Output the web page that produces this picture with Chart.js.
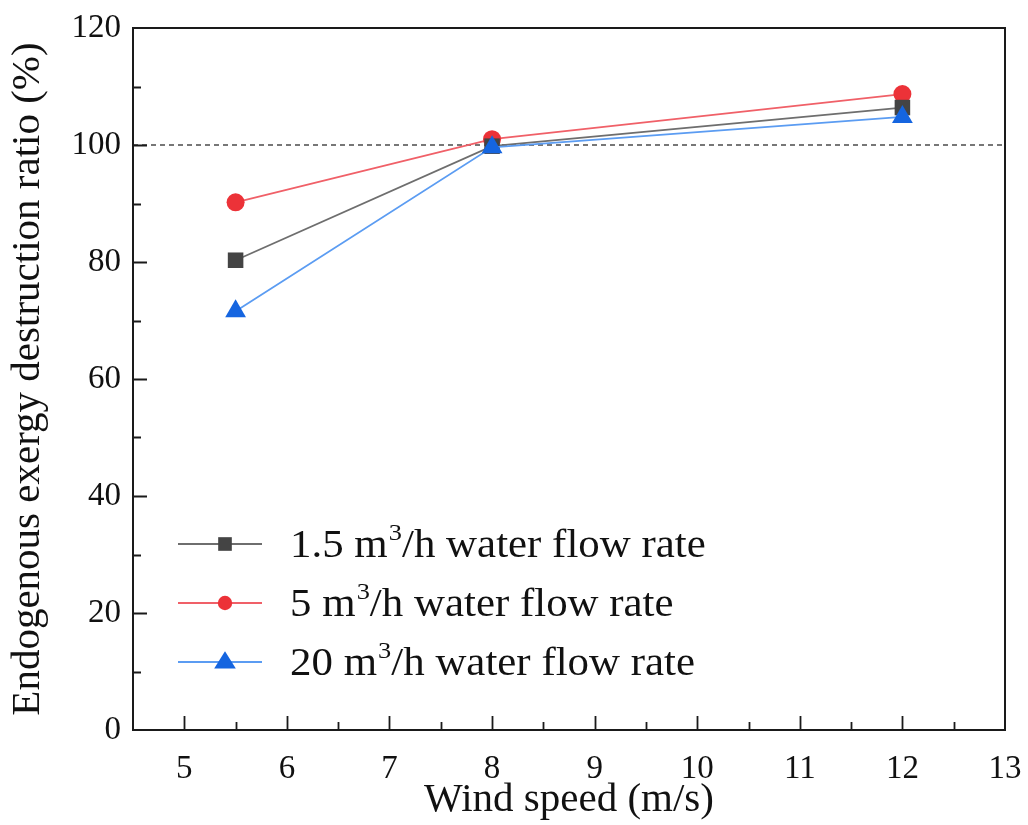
<!DOCTYPE html>
<html>
<head>
<meta charset="utf-8">
<script src="https://cdn.jsdelivr.net/npm/chart.js@4.4.0/dist/chart.umd.min.js"></script>
<style>
  body { margin: 0; background: #fff; }
  canvas { display: block; }
</style>
</head>
<body>
<canvas id="lineChart" width="1028" height="825"></canvas>
<script>
const windSpeed = [5.5, 8, 12];
const flow15 = [80.3, 99.8, 106.4];
const flow5 = [90.2, 101.0, 108.7];
const flow20 = [71.6, 99.6, 104.8];
const xTicks = [5, 6, 7, 8, 9, 10, 11, 12, 13];
const yTicks = [0, 20, 40, 60, 80, 100, 120];
const refLine = 100;

const serif = '"Liberation Serif", "Times New Roman", serif';

function pts(arr) {
    return windSpeed.map((x, i) => ({ x: x, y: arr[i] }));
}

// frame + inward ticks (major and minor) like Origin
const framePlugin = {
    id: 'frame',
    afterDatasetsDraw(chart) {
        const { ctx, chartArea: a, scales: { x, y } } = chart;
        ctx.save();
        ctx.strokeStyle = '#1a1a1a';
        ctx.lineWidth = 2;
        ctx.strokeRect(a.left, a.top, a.right - a.left, a.bottom - a.top);
        ctx.lineWidth = 1.8;
        ctx.beginPath();
        for (let v = 5; v < 13; v += 0.5) {
            const px = Math.round(x.getPixelForValue(v)) + 0.5;
            const len = Number.isInteger(v) ? 14 : 8;
            ctx.moveTo(px, a.bottom);
            ctx.lineTo(px, a.bottom - len);
        }
        for (let v = 10; v < 120; v += 10) {
            const py = Math.round(y.getPixelForValue(v)) + 0.5;
            const len = v % 20 === 0 ? 14 : 8;
            ctx.moveTo(a.left, py);
            ctx.lineTo(a.left + len, py);
        }
        ctx.stroke();
        ctx.restore();
    }
};

// legend with superscript
const legendPlugin = {
    id: 'supLegend',
    afterDraw(chart) {
        const { ctx, chartArea: a } = chart;
        const items = chart.data.datasets.filter(d => d.legendText);
        ctx.save();
        items.forEach((d, i) => {
            const cy = a.top + 516 + i * 59;
            const x0 = a.left + 45;
            ctx.strokeStyle = d.borderColor;
            ctx.lineWidth = d.borderWidth;
            ctx.beginPath();
            ctx.moveTo(x0, cy);
            ctx.lineTo(x0 + 84, cy);
            ctx.stroke();
            ctx.fillStyle = d.pointBackgroundColor;
            const mx = x0 + 47;
            const r = d.pointRadius;
            ctx.beginPath();
            if (d.pointStyle === 'rect') {
                ctx.rect(mx - r * 0.62, cy - r * 0.62, r * 1.24, r * 1.24);
            } else if (d.pointStyle === 'circle') {
                ctx.arc(mx, cy, r * 0.8, 0, Math.PI * 2);
            } else {
                ctx.moveTo(mx, cy - r * 0.9);
                ctx.lineTo(mx + r * 0.9, cy + r * 0.55);
                ctx.lineTo(mx - r * 0.9, cy + r * 0.55);
                ctx.closePath();
            }
            ctx.fill();

            // text, slightly widened like the original figure
            ctx.save();
            ctx.translate(x0 + 112, cy + 13);
            ctx.scale(1.1, 1);
            ctx.fillStyle = '#111';
            ctx.textBaseline = 'alphabetic';
            let tx = 0;
            ctx.font = '39px ' + serif;
            ctx.fillText(d.legendText[0], tx, 0);
            tx += ctx.measureText(d.legendText[0]).width;
            ctx.font = '24px ' + serif;
            ctx.fillText('3', tx + 1, -17);
            tx += ctx.measureText('3').width + 1;
            ctx.font = '39px ' + serif;
            ctx.fillText(d.legendText[1], tx, 0);
            ctx.restore();
        });
        ctx.restore();
    }
};

const ctx = document.getElementById('lineChart').getContext('2d');
const lineChart = new Chart(ctx, {
    type: 'line',
    data: {
        datasets: [
            {
                label: 'ref',
                data: [{ x: 4.5, y: refLine }, { x: 13, y: refLine }],
                borderColor: '#777',
                borderWidth: 1.8,
                borderDash: [5, 4],
                pointRadius: 0,
                order: 5
            },
            {
                label: '1.5 m3/h water flow rate',
                legendText: ['1.5 m', '/h water flow rate'],
                data: pts(flow15),
                borderColor: '#6e6e6e',
                borderWidth: 1.8,
                pointStyle: 'rect',
                pointRadius: 11,
                pointBackgroundColor: '#444',
                pointBorderWidth: 0,
                order: 2
            },
            {
                label: '5 m3/h water flow rate',
                legendText: ['5 m', '/h water flow rate'],
                data: pts(flow5),
                borderColor: '#f06068',
                borderWidth: 1.8,
                pointStyle: 'circle',
                pointRadius: 9,
                pointBackgroundColor: '#ec3238',
                pointBorderWidth: 0,
                order: 3
            },
            {
                label: '20 m3/h water flow rate',
                legendText: ['20 m', '/h water flow rate'],
                data: pts(flow20),
                borderColor: '#5b9cf2',
                borderWidth: 1.8,
                pointStyle: 'triangle',
                pointRadius: 12,
                pointBackgroundColor: '#1565e0',
                pointBorderWidth: 0,
                order: 1
            }
        ]
    },
    options: {
        responsive: false,
        animation: false,
        layout: { padding: { top: 28, right: 23, left: 0, bottom: 0 } },
        plugins: {
            legend: { display: false },
            tooltip: { enabled: false }
        },
        scales: {
            x: {
                type: 'linear',
                min: 4.5,
                max: 13,
                afterBuildTicks: axis => { axis.ticks = xTicks.map(v => ({ value: v })); },
                afterFit: s => { s.height = 95; s.paddingLeft = 0; s.paddingRight = 0; },
                grid: { display: false, drawTicks: false },
                border: { display: false },
                ticks: {
                    padding: 20,
                    color: '#111',
                    font: { family: serif, size: 33 },
                    maxRotation: 0
                },
                title: {
                    display: true,
                    text: 'Wind speed (m/s)',
                    color: '#111',
                    font: { family: serif, size: 41 },
                    padding: { top: -1, bottom: 0 }
                }
            },
            y: {
                min: 0,
                max: 120,
                afterBuildTicks: axis => { axis.ticks = yTicks.map(v => ({ value: v })); },
                afterFit: s => { s.width = 133; s.paddingTop = 0; s.paddingBottom = 0; },
                grid: { display: false, drawTicks: false },
                border: { display: false },
                ticks: {
                    padding: 12,
                    color: '#111',
                    font: { family: serif, size: 33 }
                },
                title: {
                    display: true,
                    text: 'Endogenous exergy destruction ratio (%)',
                    color: '#111',
                    font: { family: serif, size: 41 },
                    padding: { top: 4, bottom: 0 }
                }
            }
        }
    },
    plugins: [framePlugin, legendPlugin]
});
</script>
</body>
</html>
